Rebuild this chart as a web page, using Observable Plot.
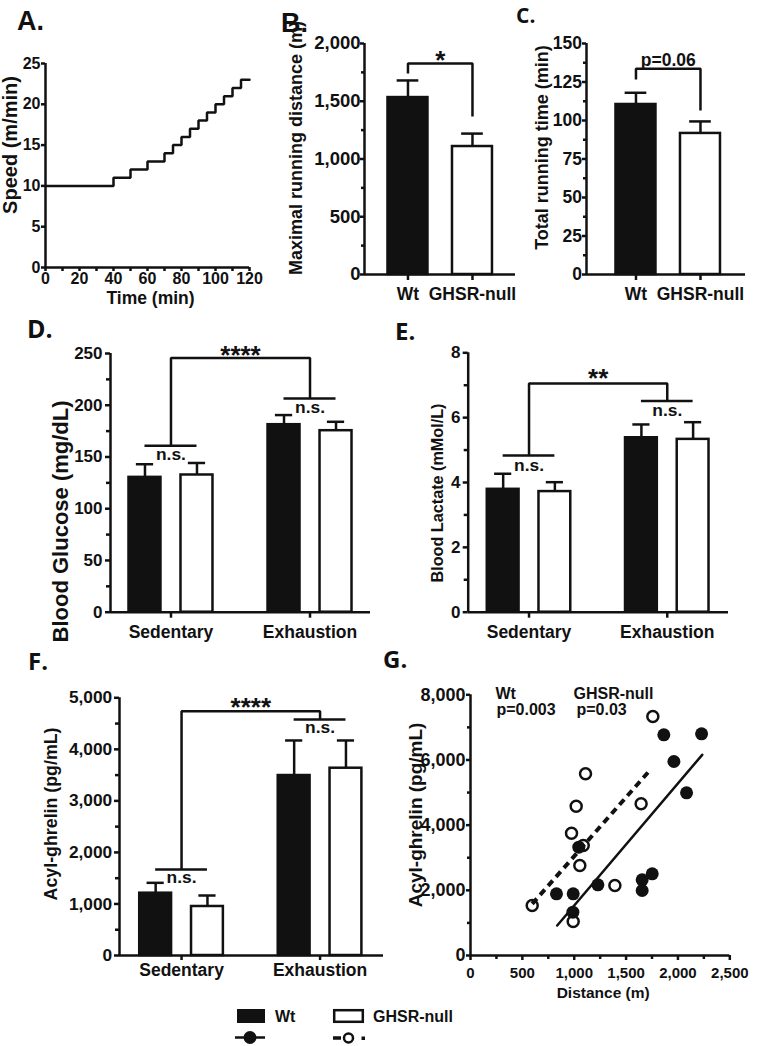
<!DOCTYPE html>
<html><head><meta charset="utf-8">
<script src="https://cdn.jsdelivr.net/npm/d3@7"></script>
<script src="https://cdn.jsdelivr.net/npm/@observablehq/plot@0.6"></script>
<style>
html,body{margin:0;padding:0;background:#fff;}
#fig{position:relative;width:759px;height:1046px;overflow:hidden;background:#fff;}
#fig svg{font-family:"Liberation Sans", Arial, Helvetica, sans-serif;font-weight:bold;}
</style></head><body><div id="fig"></div>
<script>
// ---------------- DATA ----------------
// A. Speed protocol
const speedTime  = [0, 40, 50, 60, 70, 75, 80, 85, 90, 95, 100, 105, 110, 115, 120];
const speedValue = [10, 11, 12, 13, 14, 15, 16, 17, 18, 19, 20, 21, 22, 23, 23];
const speedXTicks = [0, 20, 40, 60, 80, 100, 120];
const speedXMinor = [10, 30, 50, 70, 90, 110];
const speedYTicks = [0, 5, 10, 15, 20, 25];

const genotypes = ["Wt", "GHSR-null"];
const conditions = ["Sedentary", "Exhaustion"];

// B. Maximal running distance (m)  [Wt, GHSR-null]
const distanceMean = [1532, 1108];
const distanceSem  = [148, 112];
const distanceBracket = [1740, 1827, 1368];
const distanceYTicks = [0, 500, 1000, 1500, 2000];
const distanceYMinor = [250, 750, 1250, 1750];

// C. Total running time (min)
const runTimeMean = [110.4, 91.6];
const runTimeSem  = [7.6, 7.8];
const runTimeBracket = [126.6, 133.6, 106.5];
const runTimeYTicks = [0, 25, 50, 75, 100, 125, 150];
const runTimeYMinor = [12.5, 37.5, 62.5, 87.5, 112.5, 137.5];

// D. Blood glucose (mg/dL)  [Sedentary, Exhaustion]
const glucoseWt = [130.3, 181.2], glucoseWtSem = [12.7, 9.3];
const glucoseKo = [132.6, 175.4], glucoseKoSem = [11.6, 8.6];
const glucoseBracket = [160.9, 206.6, 245.6];
const glucoseYTicks = [0, 50, 100, 150, 200, 250];
const glucoseYMinor = [25, 75, 125, 175, 225];

// E. Blood lactate (mMol/L)
const lactateWt = [3.79, 5.38], lactateWtSem = [0.48, 0.41];
const lactateKo = [3.72, 5.33], lactateKoSem = [0.29, 0.53];
const lactateBracket = [4.83, 6.51, 7.05];
const lactateYTicks = [0, 2, 4, 6, 8];
const lactateYMinor = [1, 3, 5, 7];

// F. Acyl-ghrelin (pg/mL)
const ghrelinWt = [1209, 3492], ghrelinWtSem = [201, 680];
const ghrelinKo = [951, 3634], ghrelinKoSem = [213, 538];
const ghrelinBracket = [1669, 4579, 4740];
const ghrelinYTicks = [0, 1000, 2000, 3000, 4000, 5000];
const ghrelinYMinor = [500, 1500, 2500, 3500, 4500];

// G. Acyl-ghrelin vs distance
const wtDistance = [829, 990, 987, 1044, 1228, 1655, 1655, 1752, 1864, 1961, 2083, 2228];
const wtGhrelin  = [1893, 1893, 1330, 3323, 2168, 2322, 1994, 2506, 6771, 5953, 4991, 6803];
const koDistance = [595, 990, 974, 1019, 1109, 1087, 1054, 1392, 1645, 1758];
const koGhrelin  = [1534, 1043, 3753, 4581, 5575, 3375, 2762, 2148, 4655, 7334];
const wtFitDistance = [836, 2234], wtFitGhrelin = [920, 6158];
const koFitDistance = [595, 1742], koFitGhrelin = [1586, 5728];
const scatterXTicks = [0, 500, 1000, 1500, 2000, 2500];
const scatterXMinor = [250, 750, 1250, 1750, 2250];
const scatterYTicks = [0, 2000, 4000, 6000, 8000];
const scatterYMinor = [1000, 3000, 5000, 7000];

// ---------------- HELPERS ----------------
const INK = "#111";
const SW = 2.5;
const FONT = "'Liberation Sans', Arial, Helvetica, sans-serif";
const comma = d3.format(",");
const fig = document.getElementById("fig");

function place(svg, left, top) {
  svg.style.position = "absolute";
  svg.style.left = left + "px";
  svg.style.top = top + "px";
  svg.style.maxWidth = "none";
  fig.appendChild(svg);
}
function baseStyle(fs) {
  return {fontFamily: FONT, fontWeight: "bold", fontSize: fs + "px", background: "transparent", overflow: "visible", color: INK};
}
function yAxes(ticks, minor, fmt, fs, size, pad) {
  const m = [Plot.axisY({ticks, tickFormat: fmt, tickSize: size, tickPadding: pad, fontSize: fs, strokeWidth: SW, label: null})];
  if (minor) m.push(Plot.axisY({ticks: minor, tickFormat: () => "", tickSize: size - 1, strokeWidth: SW, label: null}));
  return m;
}
function yTitle(t, fs, dx, dy) {
  return Plot.text([t], {text: d => d, frameAnchor: "left", rotate: -90, dx, dy, fontSize: fs, textAnchor: "middle", lineAnchor: "middle"});
}

// two-bar panel (B, C)
function twoBar(o) {
  const HW = 0.31, CAP = 0.168;
  const rows = genotypes.map((g, i) => ({i, mean: o.mean[i], top: o.mean[i] + o.sem[i]}));
  const br = o.bracket;
  const path = [{x: 0, y: br[0]}, {x: 0, y: br[1]}, {x: 1, y: br[1]}, {x: 1, y: br[2]}];
  return Plot.plot({
    width: o.width, height: o.height,
    marginLeft: o.ml, marginRight: o.mr, marginTop: o.mt, marginBottom: o.mb,
    x: {domain: o.xDomain}, y: {domain: o.yDomain},
    style: baseStyle(17.5),
    marks: [
      Plot.rect(rows, {x1: d => d.i - HW, x2: d => d.i + HW, y1: () => 0, y2: "mean", fill: d => d.i ? "white" : INK, stroke: INK, strokeWidth: SW}),
      Plot.ruleX(rows, {x: "i", y1: "mean", y2: "top", stroke: INK, strokeWidth: SW}),
      Plot.ruleY(rows, {y: "top", x1: d => d.i - CAP, x2: d => d.i + CAP, stroke: INK, strokeWidth: SW}),
      Plot.line(path, {x: "x", y: "y", stroke: INK, strokeWidth: SW, strokeLinejoin: "miter", strokeLinecap: "butt"}),
      Plot.text([{x: 0.5, y: br[1]}], {x: "x", y: "y", text: () => o.sig, fontSize: o.sigSize, lineAnchor: o.sigAnchor, dy: o.sigDy}),
      Plot.ruleY([0], {stroke: INK, strokeWidth: SW}),
      Plot.ruleX([o.xDomain[0]], {stroke: INK, strokeWidth: SW}),
      Plot.axisX({ticks: [0, 1], tickFormat: i => genotypes[i], tickSize: 6, tickPadding: 7, fontSize: 17.5, strokeWidth: SW, label: null}),
      ...yAxes(o.yTicks, o.yMinor, o.fmt, o.tickFs, 4, o.tickPad),
      yTitle(o.title, o.titleFs, o.tdx, o.tdy)
    ]
  });
}

// grouped bars panel (D, E, F)
function groupBars(o) {
  const OFF = 0.187, HW = 0.115, CAP = 0.062;
  const rows = [];
  conditions.forEach((c, ci) => genotypes.forEach((g, gi) => {
    const m = gi ? o.ko[ci] : o.wt[ci];
    const s = gi ? o.koSem[ci] : o.wtSem[ci];
    rows.push({ci, gi, xc: ci + (gi ? OFF : -OFF), mean: m, top: m + s});
  }));
  const [sed, exh, top] = o.bracket;
  const small = [{ci: 0, y: sed}, {ci: 1, y: exh}];
  const big = [{x: 0, y: sed}, {x: 0, y: top}, {x: 1, y: top}, {x: 1, y: exh}];
  return Plot.plot({
    width: o.width, height: o.height,
    marginLeft: o.ml, marginRight: o.mr, marginTop: o.mt, marginBottom: o.mb,
    x: {domain: o.xDomain}, y: {domain: o.yDomain},
    style: baseStyle(17.5),
    marks: [
      Plot.rect(rows, {x1: d => d.xc - HW, x2: d => d.xc + HW, y1: () => 0, y2: "mean", fill: d => d.gi ? "white" : INK, stroke: INK, strokeWidth: SW}),
      Plot.ruleX(rows, {x: "xc", y1: "mean", y2: "top", stroke: INK, strokeWidth: SW}),
      Plot.ruleY(rows, {y: "top", x1: d => d.xc - CAP, x2: d => d.xc + CAP, stroke: INK, strokeWidth: SW}),
      Plot.ruleY(small, {y: "y", x1: d => d.ci - OFF, x2: d => d.ci + OFF, stroke: INK, strokeWidth: SW}),
      Plot.line(big, {x: "x", y: "y", stroke: INK, strokeWidth: SW, strokeLinejoin: "miter", strokeLinecap: "butt"}),
      Plot.text(small, {x: "ci", y: "y", text: () => "n.s.", lineAnchor: "top", dy: o.nsDy, fontSize: 17.4}),
      Plot.text([{x: 0.5, y: top}], {x: "x", y: "y", text: () => o.stars, lineAnchor: "top", dy: o.starDy, fontSize: 26}),
      Plot.ruleY([0], {stroke: INK, strokeWidth: SW}),
      Plot.ruleX([o.xDomain[0]], {stroke: INK, strokeWidth: SW}),
      Plot.axisX({ticks: [0, 1], tickFormat: i => conditions[i], tickSize: o.xTickSize, tickPadding: o.xTickPad, fontSize: 17.5, strokeWidth: SW, label: null}),
      ...yAxes(o.yTicks, o.yMinor, o.fmt, o.tickFs, 5, o.tickPad),
      yTitle(o.title, o.titleFs, o.tdx, o.tdy)
    ]
  });
}

// ---------------- PANEL A ----------------
const speedRows = speedTime.map((t, i) => ({t, s: speedValue[i]}));
place(Plot.plot({
  width: 260, height: 310, marginLeft: 45, marginRight: 11, marginTop: 63, marginBottom: 43,
  x: {domain: [0, 120]}, y: {domain: [0, 25]},
  style: baseStyle(16),
  marks: [
    Plot.line(speedRows, {x: "t", y: "s", curve: "step-after", stroke: INK, strokeWidth: SW, strokeLinejoin: "miter"}),
    Plot.ruleY([0], {stroke: INK, strokeWidth: SW}),
    Plot.ruleX([0], {stroke: INK, strokeWidth: SW}),
    Plot.axisX({ticks: speedXTicks, tickSize: 4, tickPadding: 1, fontSize: 16, strokeWidth: SW, label: null}),
    Plot.axisX({ticks: speedXMinor, tickFormat: () => "", tickSize: 4, strokeWidth: SW, label: null}),
    ...yAxes(speedYTicks, null, d => d, 16, 4, 1),
    Plot.text(["Time (min)"], {text: d => d, frameAnchor: "bottom", dx: 3, dy: 24, lineAnchor: "top", fontSize: 17.5}),
    yTitle("Speed (m/min)", 20, -35, -20.5)
  ]
}), 0, 0);

// ---------------- PANEL B ----------------
place(twoBar({
  width: 270, height: 300, ml: 114, mr: 5, mt: 43, mb: 26,
  xDomain: [-0.674, 1.667], yDomain: [0, 2000],
  mean: distanceMean, sem: distanceSem, bracket: distanceBracket,
  sig: "*", sigSize: 26, sigAnchor: "top", sigDy: -13,
  yTicks: distanceYTicks, yMinor: distanceYMinor, fmt: comma, tickFs: 18.5, tickPad: 0,
  title: "Maximal running distance (m)", titleFs: 18, tdx: -68.5, tdy: -11
}), 250, 0);

// ---------------- PANEL C ----------------
place(twoBar({
  width: 259, height: 300, ml: 86, mr: 14, mt: 43, mb: 26,
  xDomain: [-0.767, 1.698], yDomain: [0, 150],
  mean: runTimeMean, sem: runTimeSem, bracket: runTimeBracket,
  sig: "p=0.06", sigSize: 17.5, sigAnchor: "bottom", sigDy: -3,
  yTicks: runTimeYTicks, yMinor: runTimeYMinor, fmt: d => d, tickFs: 17.5, tickPad: 0.5,
  title: "Total running time (min)", titleFs: 18, tdx: -44, tdy: -11.5
}), 500, 0);

// ---------------- PANEL D ----------------
place(groupBars({
  width: 380, height: 340, ml: 110, mr: 10, mt: 53, mb: 28.3,
  xDomain: [-0.435, 1.435], yDomain: [0, 250],
  wt: glucoseWt, wtSem: glucoseWtSem, ko: glucoseKo, koSem: glucoseKoSem,
  bracket: glucoseBracket, stars: "****", starDy: -13, nsDy: 2,
  xTickSize: 6, xTickPad: 7,
  yTicks: glucoseYTicks, yMinor: glucoseYMinor, fmt: d => d, tickFs: 17, tickPad: 3,
  title: "Blood Glucose (mg/dL)", titleFs: 22, tdx: -50, tdy: 38.6
}), 0, 300);

// ---------------- PANEL E ----------------
place(groupBars({
  width: 379, height: 340, ml: 87.7, mr: 31, mt: 52.3, mb: 28.3,
  xDomain: [-0.44, 1.443], yDomain: [0, 8],
  wt: lactateWt, wtSem: lactateWtSem, ko: lactateKo, koSem: lactateKoSem,
  bracket: lactateBracket, stars: "**", starDy: -15, nsDy: 3,
  xTickSize: 6, xTickPad: 7,
  yTicks: lactateYTicks, yMinor: lactateYMinor, fmt: d => d, tickFs: 17, tickPad: 2.7,
  title: "Blood Lactate (mMol/L)", titleFs: 16.2, tdx: -30.7, tdy: 10.5
}), 380, 300);

// ---------------- PANEL F ----------------
place(groupBars({
  width: 390, height: 360, ml: 119, mr: 7, mt: 57.3, mb: 45,
  xDomain: [-0.448, 1.458], yDomain: [0, 5000],
  wt: ghrelinWt, wtSem: ghrelinWtSem, ko: ghrelinKo, koSem: ghrelinKoSem,
  bracket: ghrelinBracket, stars: "****", starDy: -14, nsDy: 1.5,
  xTickSize: 5, xTickPad: 3.5,
  yTicks: ghrelinYTicks, yMinor: ghrelinYMinor, fmt: comma, tickFs: 17.3, tickPad: 2.3,
  title: "Acyl-ghrelin (pg/mL)", titleFs: 17.8, tdx: -68, tdy: -12.7
}), 0, 640);

// ---------------- PANEL G ----------------
const wtPts = wtDistance.map((x, i) => ({x, y: wtGhrelin[i]}));
const koPts = koDistance.map((x, i) => ({x, y: koGhrelin[i]}));
const wtFit = wtFitDistance.map((x, i) => ({x, y: wtFitGhrelin[i]}));
const koFit = koFitDistance.map((x, i) => ({x, y: koFitGhrelin[i]}));
function note(t, dx, dy) {
  return Plot.text([t], {text: d => d, frameAnchor: "top-left", textAnchor: "start", lineAnchor: "top", dx, dy, fontSize: 16});
}
place(Plot.plot({
  width: 379, height: 360, marginLeft: 90, marginRight: 29.7, marginTop: 54.3, marginBottom: 45,
  x: {domain: [0, 2500]}, y: {domain: [0, 8000]},
  style: baseStyle(15),
  marks: [
    Plot.line(wtFit, {x: "x", y: "y", stroke: INK, strokeWidth: SW}),
    Plot.line(koFit, {x: "x", y: "y", stroke: INK, strokeWidth: 4, strokeDasharray: "7,5", strokeLinecap: "butt"}),
    Plot.dot(wtPts, {x: "x", y: "y", r: 6.5, fill: INK, stroke: "none"}),
    Plot.dot(koPts, {x: "x", y: "y", r: 5.5, fill: "none", stroke: INK, strokeWidth: SW}),
    Plot.ruleY([0], {stroke: INK, strokeWidth: SW}),
    Plot.ruleX([0], {stroke: INK, strokeWidth: SW}),
    Plot.axisX({ticks: scatterXTicks, tickFormat: comma, tickSize: 5, tickPadding: 6.7, fontSize: 15, strokeWidth: SW, label: null}),
    Plot.axisX({ticks: scatterXMinor, tickFormat: () => "", tickSize: 4, strokeWidth: SW, label: null}),
    ...yAxes(scatterYTicks, scatterYMinor, comma, 18, 4, 1),
    Plot.text(["Distance (m)"], {text: d => d, frameAnchor: "bottom", dx: 3, dy: 31.7, lineAnchor: "top", fontSize: 15.5}),
    yTitle("Acyl-ghrelin (pg/mL)", 19, -55, -10.2),
    note("Wt", 25, -7.3),
    note("p=0.003", 26, 9),
    note("GHSR-null", 103, -7.3),
    note("p=0.03", 106, 9)
  ]
}), 380, 640);

// ---------------- OVERLAY: panel letters + legend ----------------
const ns = "http://www.w3.org/2000/svg";
const ov = document.createElementNS(ns, "svg");
ov.setAttribute("width", 759); ov.setAttribute("height", 1046);
ov.style.position = "absolute"; ov.style.left = "0px"; ov.style.top = "0px"; ov.style.pointerEvents = "none";
const OS = "'Open Sans', 'Liberation Sans', sans-serif";
ov.innerHTML = `
<g font-weight="bold" fill="${INK}">
  <text x="17" y="29.5" font-family="${FONT}" font-size="27">A.</text>
  <text x="281" y="31.7" font-family="${FONT}" font-size="27">B.</text>
  <text x="516" y="23" font-family="${OS}" font-size="21">C.</text>
  <text x="27" y="338.3" font-family="${OS}" font-size="25">D.</text>
  <text x="395" y="340" font-family="${OS}" font-size="24">E.</text>
  <text x="28" y="670" font-family="${OS}" font-size="24">F.</text>
  <text x="383" y="668.3" font-family="${OS}" font-size="24">G.</text>
</g>
<g font-family="${FONT}" font-weight="bold" font-size="16" fill="${INK}">
  <rect x="237" y="1009" width="28" height="14" fill="${INK}"/>
  <text x="275" y="1022">Wt</text>
  <rect x="334.2" y="1010.2" width="28.6" height="11.6" fill="white" stroke="${INK}" stroke-width="2.5"/>
  <text x="373" y="1022">GHSR-null</text>
  <line x1="235" x2="265" y1="1037.5" y2="1037.5" stroke="${INK}" stroke-width="2.5"/>
  <circle cx="250" cy="1037.5" r="6.5" fill="${INK}"/>
  <line x1="333" x2="341" y1="1038" y2="1038" stroke="${INK}" stroke-width="3.5"/>
  <circle cx="348.5" cy="1038" r="4.5" fill="none" stroke="${INK}" stroke-width="2.5"/>
  <rect x="361.5" y="1036.5" width="3.5" height="3.5" fill="${INK}"/>
</g>`;
fig.appendChild(ov);
</script>
</body></html>
